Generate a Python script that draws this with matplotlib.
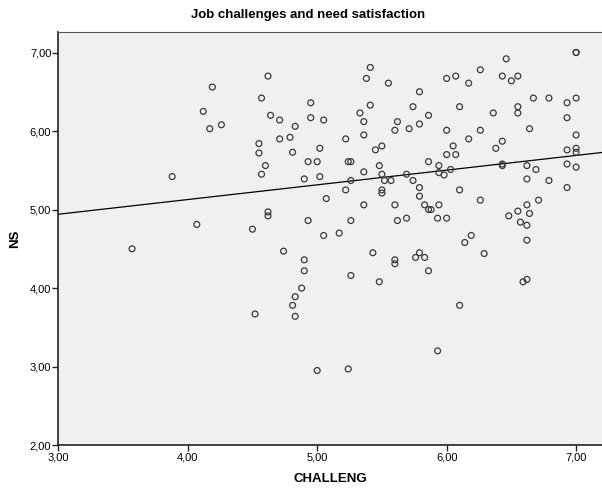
#!/usr/bin/env python3
"""
Scatter plot of job challenges (CHALLENG) against need satisfaction (NS),
with a linear fit line, drawn in the style of an SPSS chart.
"""

import numpy as np
import matplotlib
matplotlib.use("Agg")
import matplotlib.pyplot as plt
from matplotlib.ticker import FuncFormatter


TITLE = "Job challenges and need satisfaction"
X_LABEL = "CHALLENG"
Y_LABEL = "NS"

X_TICKS = [3.0, 4.0, 5.0, 6.0, 7.0]
Y_TICKS = [2.0, 3.0, 4.0, 5.0, 6.0, 7.0]

# CHALLENG scores
challeng = [
    4.62, 4.19, 4.57, 4.12, 4.26, 4.17, 4.64, 4.71, 4.71, 4.55,
    4.55, 4.60, 5.41, 5.38, 5.55, 5.79, 4.95, 5.41, 5.74, 4.95,
    5.05, 5.33, 5.36, 5.86, 5.62, 5.60, 5.71, 5.79, 4.83, 4.79,
    5.22, 5.36, 5.02, 4.81, 5.50, 5.45, 4.93, 5.00, 5.24, 5.26,
    5.36, 5.48, 5.86, 5.94, 7.00, 7.00, 6.46, 6.26, 6.00, 6.07,
    6.17, 6.43, 6.50, 6.55, 6.67, 6.79, 6.93, 7.00, 6.10, 6.36,
    6.55, 6.55, 6.93, 6.00, 6.26, 6.64, 6.17, 7.00, 6.05, 6.00,
    6.07, 6.43, 6.38, 6.93, 7.00, 7.00, 6.03, 6.43, 6.43, 6.62,
    6.69, 6.93, 7.00, 4.57, 3.88, 4.07, 4.50, 4.62, 4.62, 3.57,
    4.90, 5.02, 5.50, 5.69, 5.94, 5.98, 5.26, 5.52, 5.57, 5.74,
    5.22, 5.50, 5.50, 5.79, 5.07, 5.79, 5.36, 5.60, 5.83, 5.86,
    5.88, 5.94, 4.93, 5.26, 5.62, 5.69, 5.93, 5.05, 5.17, 4.74,
    4.90, 4.90, 5.43, 5.60, 5.60, 5.79, 5.76, 5.83, 5.86, 5.26,
    5.48, 4.88, 4.83, 4.81, 6.62, 6.79, 6.93, 6.10, 6.26, 6.71,
    6.62, 6.00, 6.55, 6.48, 6.64, 6.57, 6.62, 6.62, 6.19, 6.14,
    6.29, 6.62, 6.59, 6.10, 4.52, 4.83, 5.93, 5.00, 5.24,
]

# NS scores
ns = [
    6.70, 6.56, 6.42, 6.25, 6.08, 6.03, 6.20, 6.14, 5.90, 5.84,
    5.72, 5.56, 6.81, 6.67, 6.61, 6.50, 6.36, 6.33, 6.31, 6.17,
    6.14, 6.23, 6.12, 6.20, 6.12, 6.01, 6.03, 6.09, 6.06, 5.92,
    5.90, 5.95, 5.78, 5.73, 5.81, 5.76, 5.61, 5.61, 5.61, 5.61,
    5.48, 5.56, 5.61, 5.56, 7.00, 7.00, 6.92, 6.78, 6.67, 6.70,
    6.61, 6.70, 6.64, 6.70, 6.42, 6.42, 6.36, 6.42, 6.31, 6.23,
    6.31, 6.23, 6.17, 6.01, 6.01, 6.03, 5.90, 5.95, 5.81, 5.70,
    5.70, 5.87, 5.78, 5.76, 5.78, 5.73, 5.51, 5.58, 5.56, 5.56,
    5.51, 5.58, 5.54, 5.45, 5.42, 4.81, 4.75, 4.97, 4.92, 4.50,
    5.39, 5.42, 5.45, 5.45, 5.47, 5.44, 5.37, 5.37, 5.37, 5.37,
    5.25, 5.25, 5.21, 5.28, 5.14, 5.17, 5.06, 5.06, 5.06, 5.00,
    5.00, 5.06, 4.86, 4.86, 4.86, 4.89, 4.89, 4.67, 4.70, 4.47,
    4.36, 4.22, 4.45, 4.36, 4.31, 4.45, 4.39, 4.39, 4.22, 4.16,
    4.08, 4.00, 3.89, 3.78, 5.39, 5.37, 5.28, 5.25, 5.12, 5.12,
    5.06, 4.89, 4.98, 4.92, 4.95, 4.84, 4.80, 4.61, 4.67, 4.58,
    4.44, 4.11, 4.08, 3.78, 3.67, 3.64, 3.20, 2.95, 2.97,
]


def comma_fmt(value, _pos):
    return f"{value:.2f}".replace(".", ",")


def main() -> int:
    plt.rcParams["font.family"] = ["Liberation Sans", "DejaVu Sans"]

    x = np.array(challeng)
    y = np.array(ns)

    fig = plt.figure(figsize=(6.02, 4.94), dpi=100)
    ax = fig.add_axes([0.0968, 0.099, 0.9032, 0.836])
    ax.set_facecolor("#f0f0f0")

    ax.scatter(
        x,
        y,
        s=18,
        facecolors="none",
        edgecolors="#3a3a3a",
        linewidths=0.9,
        zorder=3,
    )

    # Linear fit line across the whole x range
    slope, intercept = np.polyfit(x, y, 1)
    x_line = np.array([3.0, 7.2])
    ax.plot(x_line, slope * x_line + intercept, color="black", lw=0.9, zorder=2)

    ax.set_xlim(3.0, 7.2)
    ax.set_ylim(2.0, 7.26)
    ax.set_xticks(X_TICKS)
    ax.set_yticks(Y_TICKS)
    ax.xaxis.set_major_formatter(FuncFormatter(comma_fmt))
    ax.yaxis.set_major_formatter(FuncFormatter(comma_fmt))
    ax.tick_params(axis="both", direction="out", length=4, width=1,
                   labelsize=8, color="#222222", pad=1)

    for side in ("left", "bottom"):
        ax.spines[side].set_color("#222222")
        ax.spines[side].set_linewidth(1.2)
    ax.spines["top"].set_color("#555555")
    ax.spines["top"].set_linewidth(0.8)
    ax.spines["right"].set_visible(False)

    ax.set_xlabel(X_LABEL, fontsize=9.5, fontweight="bold", labelpad=8)
    ax.set_ylabel(Y_LABEL, fontsize=9.5, fontweight="bold")
    # NS sits close to the tick labels, about 21 px from the left edge
    ax.yaxis.set_label_coords(-0.069, 0.5)

    fig.text(308 / 602, 1 - 15 / 494, TITLE, ha="center", va="center",
             fontsize=9.5, fontweight="bold")

    fig.savefig("out.png", dpi=100, facecolor="white")
    return 0


if __name__ == "__main__":
    raise SystemExit(main())
